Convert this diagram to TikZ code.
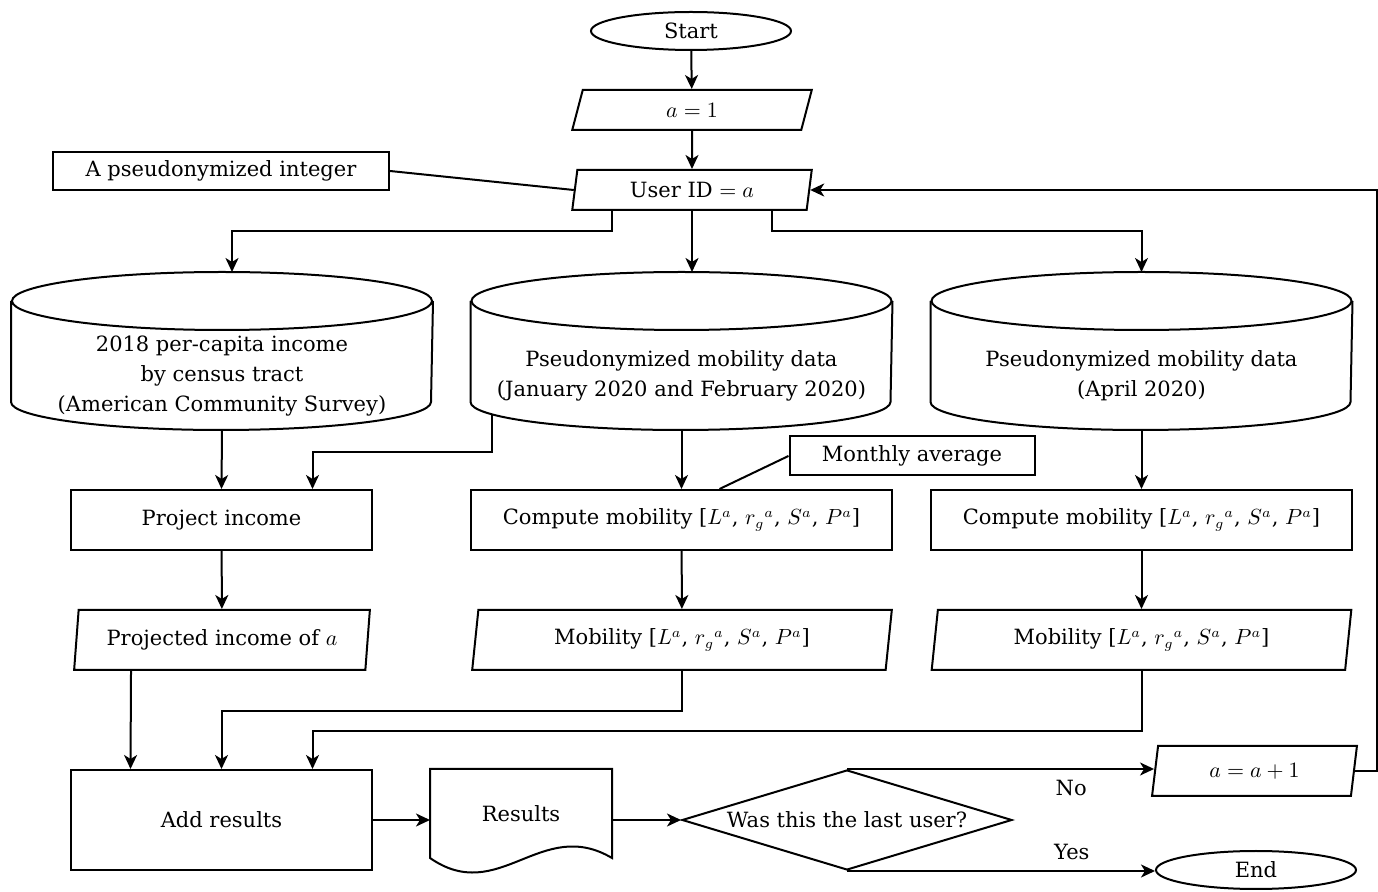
\documentclass[tikz,border=0pt]{standalone}
\usepackage{fontspec}
\setmainfont{DejaVu Serif}
\usetikzlibrary{shapes,arrows.meta,positioning,calc}

\begin{document}
\begin{tikzpicture}[x=0.5pt, y=-0.5pt, line width=1pt,
    font=\fontsize{10.5}{15}\selectfont,
    arr/.style={-{Stealth[length=7pt,width=6.5pt,inset=2pt]}},
    term/.style={ellipse, draw, minimum width=100pt, minimum height=19pt, inner sep=0pt},
    io/.style={trapezium, trapezium left angle=80, trapezium right angle=100, trapezium stretches=true, draw, inner sep=0pt},
    box/.style={rectangle, draw, inner sep=0pt},
    db/.style={rectangle, minimum width=210pt, minimum height=45pt, inner sep=0pt, align=center},
    decision/.style={diamond, draw, aspect=3.3, minimum width=165pt, minimum height=50pt, inner sep=0pt}]
    \useasboundingbox (0,0) rectangle (1378,892);

    \node[term] (start) at (691,31) {Start};
    \node[io, minimum width=120pt, minimum height=20pt] (one) at (692,110) {$a = 1$};
    \node[io, minimum width=120pt, minimum height=20pt] (uid) at (692,190) {User ID $= a$};
    \node[box, minimum width=168pt, minimum height=19pt] (pint) at (221,171) {A pseudonymized integer};

    \node[db] (acs) at (222,376) {2018 per-capita income\\by census tract\\(American Community Survey)};
    \node[db] (mjf) at (681.5,376) {Pseudonymized mobility data\\(January 2020 and February 2020)};
    \node[db] (mapr) at (1141.5,376) {Pseudonymized mobility data\\(April 2020)};
    \foreach \n in {acs,mjf,mapr} {
        \draw ($(\n.north)+(0,-29)$) ellipse[x radius=105pt, y radius=14.5pt];
        \draw ($(\n.north west)+(0,-29)$) -- ($(\n.south west)+(0,-20)$)
            arc[start angle=180, end angle=360, x radius=105pt, y radius=14pt] -- ($(\n.north east)+(0,-29)$);
    }

    \node[box, minimum width=122.5pt, minimum height=19.5pt] (avg) at (912,456) {Monthly average};
    \node[box, minimum width=150.5pt, minimum height=30pt] (proj) at (221.5,520) {Project income};
    \node[box, minimum width=210.5pt, minimum height=30pt] (comp1) at (681.5,520) {Compute mobility [$L^a$, ${r_g}^a$, $S^a$, $P^a$]};
    \node[box, minimum width=210.5pt, minimum height=30pt] (comp2) at (1141.5,520) {Compute mobility [$L^a$, ${r_g}^a$, $S^a$, $P^a$]};

    \node[io, minimum width=148pt, minimum height=30pt] (pinc) at (222,640) {Projected income of $a$};
    \node[io, minimum width=210pt, minimum height=30pt] (mob1) at (682,640) {Mobility [$L^a$, ${r_g}^a$, $S^a$, $P^a$]};
    \node[io, minimum width=210pt, minimum height=30pt] (mob2) at (1141.5,640) {Mobility [$L^a$, ${r_g}^a$, $S^a$, $P^a$]};

    \node[box, minimum width=150.5pt, minimum height=50pt] (add) at (221.5,820) {Add results};
    \node[minimum width=90pt, minimum height=50pt, inner sep=0pt] (res) at (521,820) {\raisebox{6.5pt}{Results}};
    \node[decision] (last) at (847,820) {Was this the last user?};
    \node[io, minimum width=102.5pt, minimum height=25pt] (inc) at (1254.5,771) {$a = a + 1$};
    \node[term] (end) at (1256,870) {End};

    \draw (res.north west) -- (res.north east) -- ($(res.south east)+(0,-13)$)
        .. controls ($(res.south east)+(-71,-55)$) and ($(res.south west)+(69,35)$) .. ($(res.south west)+(0,-13)$) -- cycle;

    \draw[arr] (start) -- (one);
    \draw[arr] (one) -- (uid);
    \draw (pint.east) -- (uid.west);
    \draw[arr] ($(uid.south)+(-80,0)$) -- ++(0,20) -| ($(acs.north)+(10,-58)$);
    \draw[arr] (uid.south) -- ($(uid.south |- mjf.north)+(0,-58)$);
    \draw[arr] ($(uid.south)+(80,0)$) -- ++(0,20) -| ($(mapr.north)+(0,-58)$);

    \draw[arr] ($(acs.south)+(0,8)$) -- (proj.north);
    \draw[arr] ($(mjf.south)+(-190,-8)$) -- ++(0,38) -| ($(proj.north)+(91,0)$);
    \draw[arr] ($(mjf.south)+(0,8)$) -- (comp1.north);
    \draw[arr] ($(mapr.south)+(0,8)$) -- (comp2.north);
    \draw (avg.west) -- ($(comp1.north)+(38,0)$);

    \draw[arr] (proj) -- (pinc);
    \draw[arr] (comp1) -- (mob1);
    \draw[arr] (comp2) -- (mob2);

    \draw[arr] ($(pinc.south)+(-91,0)$) -- ($(add.north)+(-91,0)$);
    \draw[arr] (mob1.south) -- ++(0,40) -| (add.north);
    \draw[arr] (mob2.south) -- ++(0,60) -| ($(add.north)+(91,0)$);

    \draw[arr] (add) -- (res);
    \draw[arr] (res) -- (last);
    \draw[arr] (last.north) -- (last.north -| inc.west) node[pos=0.73, below=2pt] {No};
    \draw[arr] (last.south) -- (last.south -| end.west) node[pos=0.73, above=2pt] {Yes};
    \draw[arr] (inc.east) -- ++(22,0) |- (uid.east);
\end{tikzpicture}
\end{document}
